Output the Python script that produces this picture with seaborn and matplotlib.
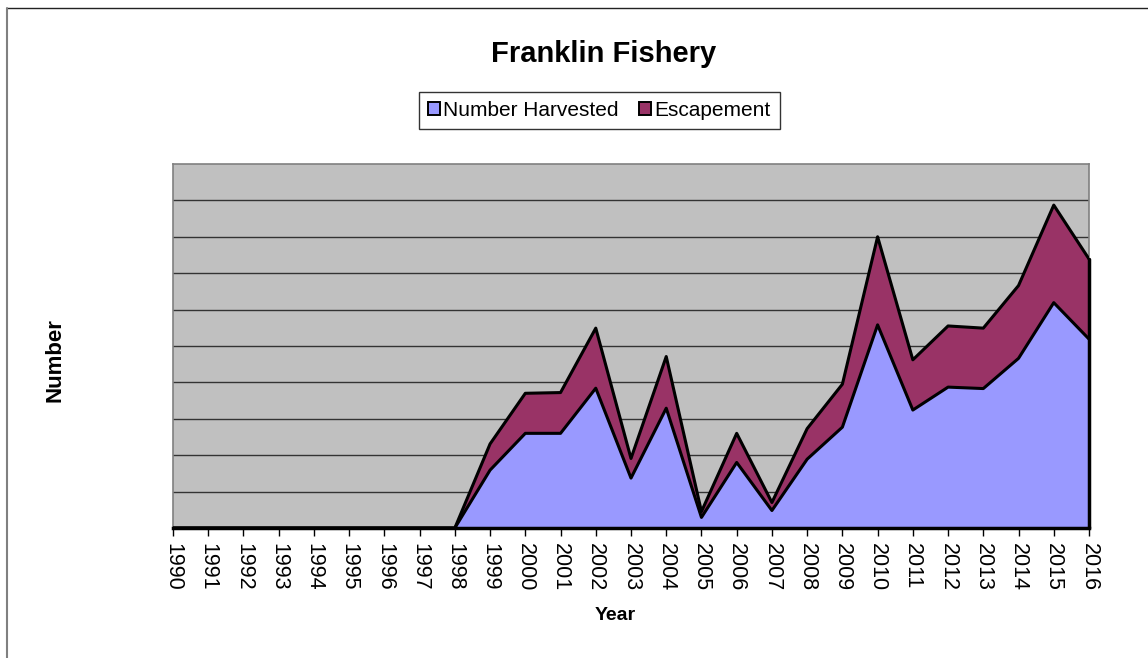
import numpy as np
import pandas as pd
import matplotlib
matplotlib.use("Agg")
import matplotlib.pyplot as plt
from matplotlib.lines import Line2D
from matplotlib.patches import Patch
import seaborn as sns

# values (one grid step = 1000 fish, no scale shown)
years = list(range(1990, 2017))
harvested = [0, 0, 0, 0, 0, 0, 0, 0, 0,
             1590, 2600, 2600, 3840, 1370, 3290, 290, 1800, 480,
             1890, 2770, 5580, 3240, 3870, 3830, 4660, 6190, 5190]
total = [0, 0, 0, 0, 0, 0, 0, 0, 0,
         2310, 3700, 3720, 5490, 1910, 4710, 450, 2600, 700,
         2730, 3950, 8000, 4620, 5550, 5490, 6660, 8870, 7390]
escapement = [t - h for t, h in zip(total, harvested)]

harv_color = "#9999FF"
esc_color = "#993366"

df = pd.DataFrame({"Year": years, "Harvested": harvested, "Total": total})

sns.set_theme(style="white")
plt.rcParams["font.family"] = ["Liberation Sans", "DejaVu Sans"]
plt.rcParams["text.color"] = "black"
plt.rcParams["xtick.color"] = "black"

fig = plt.figure(figsize=(11.48, 6.58), dpi=100)
ax = fig.add_axes([0.1507, 0.1976, 0.7979, 0.5532])
ax.set_facecolor("#C0C0C0")

ax.stackplot(df["Year"], harvested, escapement,
             colors=[harv_color, esc_color], edgecolor="none", zorder=2)
sns.lineplot(data=df, x="Year", y="Harvested", color="black", linewidth=2.2, ax=ax, zorder=3)
sns.lineplot(data=df, x="Year", y="Total", color="black", linewidth=2.2, ax=ax, zorder=3)
# closing edge of the area at the last year
ax.plot([years[-1], years[-1]], [0, total[-1]], color="black", linewidth=2.5, zorder=3,
        clip_on=False)

ax.set_xlim(1990, 2016)
ax.set_ylim(0, 10000)
ax.set_yticks(np.arange(1000, 10000, 1000))
ax.set_yticklabels([])
ax.yaxis.grid(True, color="#333333", linewidth=1.0)
ax.xaxis.grid(False)
ax.set_axisbelow(True)

ax.set_xticks(years)
ax.set_xticklabels([str(y) for y in years], rotation=270, fontsize=15.5, color="black")
ax.tick_params(axis="x", direction="out", length=6, width=1, color="black", pad=5, bottom=True)
ax.tick_params(axis="y", left=False)

for side in ["top", "right", "left"]:
    ax.spines[side].set_color("#808080")
    ax.spines[side].set_linewidth(1.2)
ax.spines["bottom"].set_color("black")
ax.spines["bottom"].set_linewidth(2.5)

ax.set_xlabel("")
ax.set_ylabel("")
fig.text(0.536, 0.065, "Year", ha="center", va="center", fontsize=14, fontweight="bold")
fig.text(0.048, 0.453, "Number", ha="center", va="center", fontsize=16,
         fontweight="bold", rotation=90)
fig.text(0.526, 0.918, "Franklin Fishery", ha="center", va="center", fontsize=21, fontweight="bold")

handles = [Patch(facecolor=harv_color, edgecolor="black", linewidth=1.4, label="Number Harvested"),
           Patch(facecolor=esc_color, edgecolor="black", linewidth=1.4, label="Escapement")]
leg = fig.legend(handles=handles, loc="center", bbox_to_anchor=(0.522, 0.832), ncol=2,
                 fontsize=15, frameon=True, fancybox=False, handlelength=0.55, handleheight=0.55,
                 handletextpad=0.15, columnspacing=1.0, borderpad=0.45, borderaxespad=0)
leg.get_frame().set_edgecolor("black")
leg.get_frame().set_linewidth(1.0)

# outer chart border (top and left visible)
fig.add_artist(Line2D([7 / 1148, 1], [1 - 8 / 658, 1 - 8 / 658], transform=fig.transFigure,
                      color="#222222", linewidth=1.0))
fig.add_artist(Line2D([7 / 1148, 7 / 1148], [0, 1 - 8 / 658], transform=fig.transFigure,
                      color="#808080", linewidth=1.5))

fig.savefig("out.png", dpi=100)
